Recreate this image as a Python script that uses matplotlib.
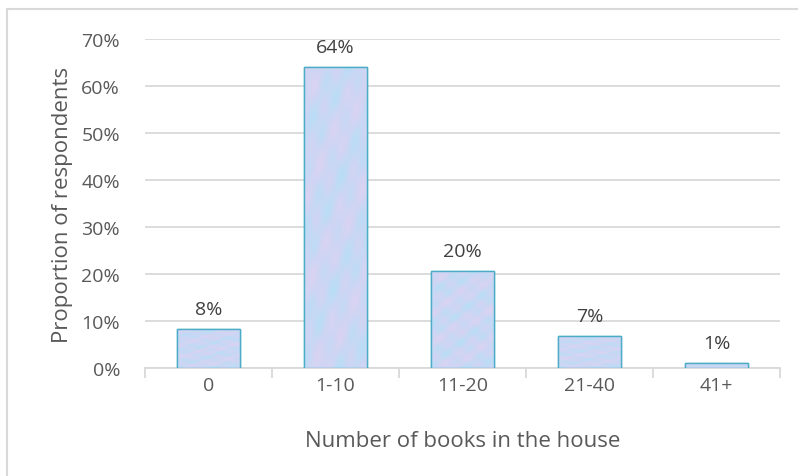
import matplotlib
matplotlib.use("Agg")
import matplotlib.pyplot as plt
import numpy as np
from matplotlib.patches import Rectangle

categories = ["0", "1-10", "11-20", "21-40", "41+"]
values = [0.083, 0.640, 0.206, 0.068, 0.011]
labels = ["8%", "64%", "20%", "7%", "1%"]

txt = "#595959"
grey = "#d9d9d9"
plt.rcParams['font.family'] = ['Open Sans', 'DejaVu Sans']

fig = plt.figure(figsize=(7.98, 4.77), dpi=100)
ax = fig.add_axes([145/798, 1-369/477, 635/798, 329/477])

x = np.arange(len(categories))
bars = ax.bar(x, values, width=0.5, color="#c8d6f4", edgecolor="#4bacc6", linewidth=1.0, zorder=3)

# soft blue/lavender texture inside the bars
yy, xx = np.mgrid[0:1:200j, 0:1:60j]
tex = 0.5 + 0.2*np.sin(xx*7 + yy*19) + 0.15*np.sin(xx*13 - yy*29 + 1.3) + 0.15*np.cos(xx*23 + yy*41)
cmap = matplotlib.colors.LinearSegmentedColormap.from_list("tex", ["#b9ddf6", "#cbd6f4", "#dad3f2"])
for b in bars:
    x0, w, h = b.get_x(), b.get_width(), b.get_height()
    im = ax.imshow(tex, cmap=cmap, extent=(x0, x0+w, 0, h), aspect="auto", zorder=3.5, vmin=0, vmax=1)
    im.set_clip_path(b)
    ax.add_patch(Rectangle((x0, 0), w, h, fill=False, edgecolor="#4bacc6", linewidth=1.0, zorder=4))

for xi, v, lab in zip(x, values, labels):
    ax.annotate(lab, (xi, v), xytext=(0, 8), textcoords="offset points",
                ha="center", va="bottom", fontsize=14, color="#404040")

ax.set_xlim(-0.5, len(categories)-0.5)
ax.set_ylim(0, 0.7)
ax.set_yticks(np.arange(0, 0.71, 0.1))
ax.set_yticklabels([f"{int(round(t*100))}%" for t in np.arange(0, 0.71, 0.1)])
ax.yaxis.grid(True, color=grey, linewidth=1.3, zorder=0)
ax.set_axisbelow(True)

ax.set_xticks(x)
ax.set_xticklabels(categories)
ax.set_xticks(np.arange(-0.5, len(categories)), minor=True)
ax.tick_params(axis="x", which="major", length=0, pad=6, labelsize=14, labelcolor=txt)
ax.tick_params(axis="x", which="minor", length=7, width=1.3, color=grey)
ax.tick_params(axis="y", length=0, pad=18, labelsize=14, labelcolor=txt)

for s in ["top", "right", "left"]:
    ax.spines[s].set_visible(False)
ax.spines["bottom"].set_color(grey)
ax.spines["bottom"].set_linewidth(1.3)

ax.set_xlabel("Number of books in the house", fontsize=16, color=txt, labelpad=26)
ax.set_ylabel("Proportion of respondents", fontsize=16, color=txt, labelpad=6)

# outer chart border (extends beyond the image)
fig.patches.append(Rectangle((7/798, -0.1), 1.2, 1.1 - 10/477, transform=fig.transFigure,
                             fill=False, edgecolor=grey, linewidth=1.5))

fig.savefig("out.png", dpi=100)
